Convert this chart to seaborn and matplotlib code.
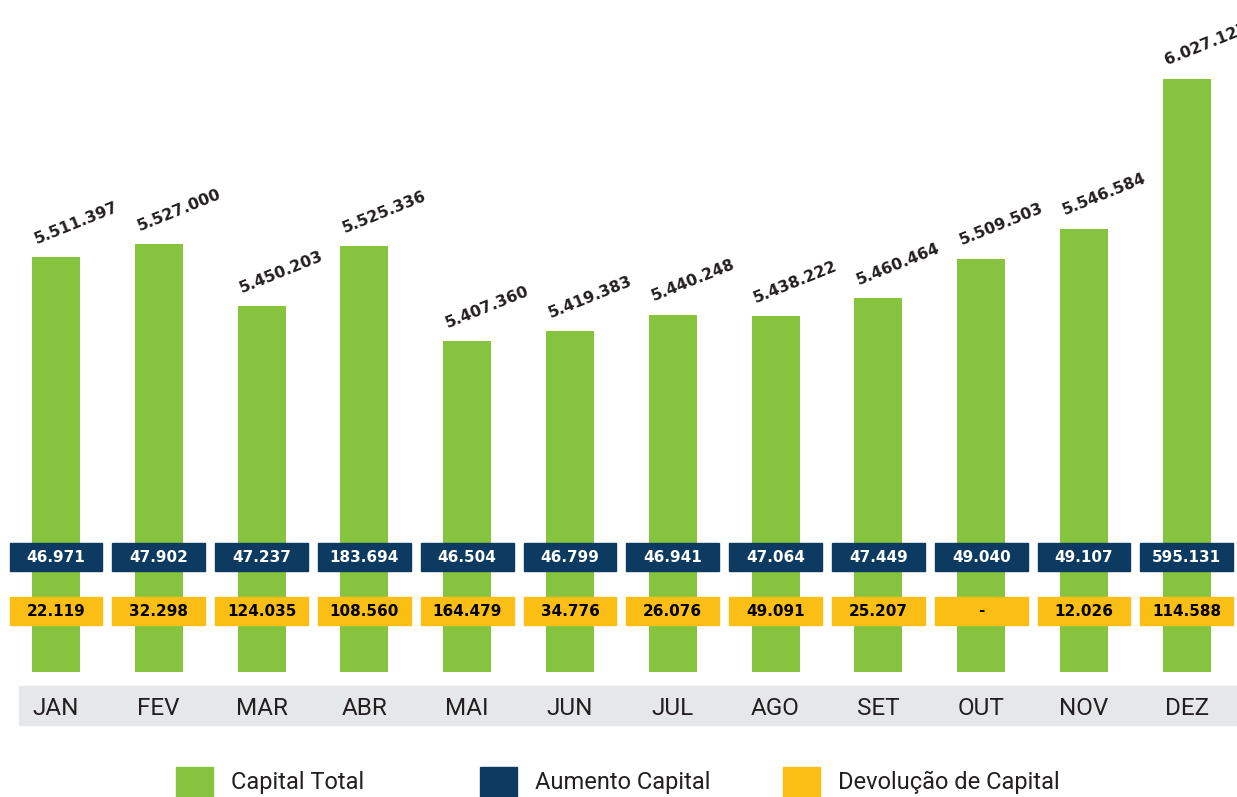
import numpy as np
import matplotlib
matplotlib.use("Agg")
import matplotlib.pyplot as plt
import matplotlib.transforms as mtransforms
from matplotlib.patches import Rectangle
import seaborn as sns

months = ["JAN", "FEV", "MAR", "ABR", "MAI", "JUN", "JUL", "AGO", "SET", "OUT", "NOV", "DEZ"]
capital_total = [5511397, 5527000, 5450203, 5525336, 5407360, 5419383,
                 5440248, 5438222, 5460464, 5509503, 5546584, 6027127]
aumento_capital = ["46.971", "47.902", "47.237", "183.694", "46.504", "46.799",
                   "46.941", "47.064", "47.449", "49.040", "49.107", "595.131"]
devolucao_capital = ["22.119", "32.298", "124.035", "108.560", "164.479", "34.776",
                     "26.076", "49.091", "25.207", "-", "12.026", "114.588"]
legend_labels = ["Capital Total", "Aumento Capital", "Devolução de Capital"]

GREEN = "#86C440"
NAVY = "#0D3A60"
YELLOW = "#FBBE14"
DARK = "#231F20"
BAND = "#E6E7E8"

sns.set_theme(style="white")
plt.rcParams["font.family"] = ["Roboto", "DejaVu Sans"]

W, H = 1237, 797
fig = plt.figure(figsize=(W / 100, H / 100), dpi=100)
fig.patch.set_facecolor("white")

# gray band behind month labels (drawn first, below the axes)
fig.patches.append(Rectangle((19 / W, (H - 725) / H), (W - 19) / W, 39 / H,
                             transform=fig.transFigure, color=BAND, zorder=-5))

# axes: x slots of 102.8 px, baseline at 672 px from top, reaching the top edge
slot = 102.8
left_px = 56 - slot / 2
ax = fig.add_axes([left_px / W, (H - 672) / H, 12 * slot / W, 672 / H])
ax.set_facecolor("none")
ax.set_zorder(1)

# truncated, compressed value scale (top segment compressed)
T, K = 5_600_000, 0.310


def fwd(v):
    v = np.asarray(v, dtype=float)
    return np.where(v <= T, v, T + (v - T) * K)


def inv(v):
    v = np.asarray(v, dtype=float)
    return np.where(v <= T, v, T + (v - T) / K)


sns.barplot(x=months, y=capital_total, color=GREEN, saturation=1, width=48 / slot,
            linewidth=0, ax=ax)
ax.set_yscale("function", functions=(fwd, inv))
px_per_unit = 0.0008074
base = 4_997_500
ax.set_ylim(base, float(inv(base + 672 / px_per_unit)))
ax.set_xlim(-0.5, 11.5)

for s in ax.spines.values():
    s.set_visible(False)
ax.set_yticks([])
ax.set_ylabel("")
ax.set_xlabel("")
ax.tick_params(axis="x", length=0, pad=18, labelsize=17.5, labelcolor=DARK)

# rotated value labels
for i, v in enumerate(capital_total):
    lab = f"{v:,}".replace(",", ".")
    ax.annotate(lab, xy=(i, v), xytext=(-14, 9.5), textcoords="offset points",
                rotation=22, rotation_mode="anchor", ha="left", va="baseline",
                fontsize=11.3, fontweight="bold", color=DARK,
                family="DejaVu Sans", annotation_clip=False)

# value boxes
trans = mtransforms.blended_transform_factory(ax.transData, ax.transAxes)
half = 0.452
navy_y0, navy_y1 = (672 - 571) / 672, (672 - 543) / 672
yel_y0, yel_y1 = (672 - 625) / 672, (672 - 597) / 672
for i in range(len(months)):
    ax.add_patch(Rectangle((i - half, navy_y0), 2 * half, navy_y1 - navy_y0,
                           transform=trans, color=NAVY, zorder=3, clip_on=False))
    ax.text(i, (navy_y0 + navy_y1) / 2, aumento_capital[i], transform=trans,
            ha="center", va="center", fontsize=11, fontweight="bold",
            color="white", family="DejaVu Sans", zorder=4)
    ax.add_patch(Rectangle((i - half, yel_y0), 2 * half, yel_y1 - yel_y0,
                           transform=trans, color=YELLOW, zorder=3, clip_on=False))
    ax.text(i, (yel_y0 + yel_y1) / 2, devolucao_capital[i], transform=trans,
            ha="center", va="center", fontsize=11, fontweight="bold",
            color="black", family="DejaVu Sans", zorder=4)

# legend
leg_colors = [GREEN, NAVY, YELLOW]
leg_x = [176, 480, 783]
for x, c, lab in zip(leg_x, leg_colors, legend_labels):
    fig.patches.append(Rectangle((x / W, (H - 804) / H), 37 / W, 37 / H,
                                 transform=fig.transFigure, color=c, zorder=1))
    fig.text((x + 55) / W, (H - 782) / H, lab, ha="left", va="center",
             fontsize=17, color=DARK)

fig.savefig("out.png", dpi=100, facecolor="white")
